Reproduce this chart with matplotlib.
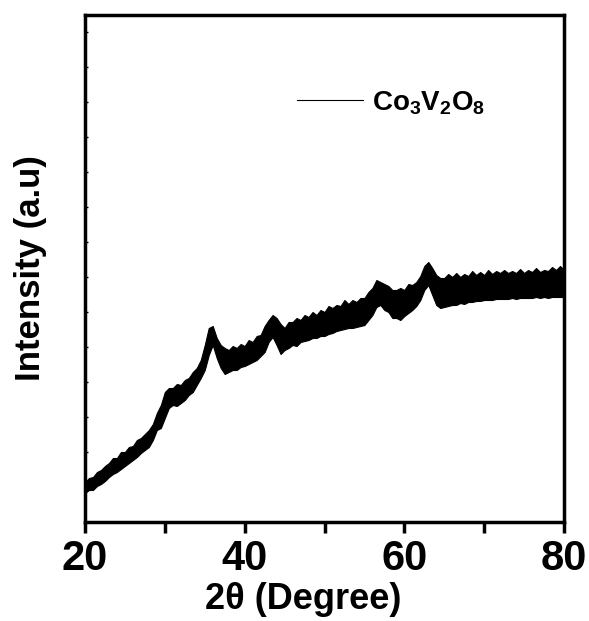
import numpy as np
import matplotlib.pyplot as plt

# scan grid, 2theta in degrees (0.5 deg steps)
two_theta = np.arange(20, 80.01, 0.5)

# upper / lower edge of the noisy trace (pixel rows, 522 = baseline)
top_px = [482, 478, 477, 472, 470, 466, 463, 458, 458, 452, 452, 447, 446, 440, 438, 434,
          430, 424, 413, 405, 392, 388, 388, 384, 385, 380, 378, 372, 368, 360, 345, 328,
          326, 338, 345, 348, 350, 346, 348, 344, 346, 340, 342, 336, 335, 326, 320, 315,
          318, 324, 328, 322, 322, 318, 320, 315, 317, 312, 315, 310, 312, 306, 308, 305,
          306, 300, 304, 300, 302, 298, 298, 292, 288, 280, 282, 284, 286, 290, 290, 288,
          290, 284, 285, 282, 276, 266, 262, 268, 275, 278, 278, 274, 277, 273, 277, 274,
          276, 271, 275, 272, 275, 270, 274, 271, 273, 270, 273, 271, 273, 269, 273, 270,
          272, 268, 272, 270, 271, 267, 270, 266, 270]
bot_px = [493, 490, 490, 486, 484, 481, 477, 474, 472, 469, 466, 463, 460, 457, 453, 450,
          447, 440, 430, 428, 418, 408, 405, 406, 403, 400, 395, 392, 385, 378, 370, 355,
          345, 358, 368, 374, 372, 370, 370, 367, 366, 364, 362, 360, 356, 352, 342, 337,
          345, 354, 350, 348, 345, 346, 342, 341, 340, 338, 338, 336, 336, 334, 333, 331,
          330, 329, 328, 328, 327, 326, 325, 320, 315, 307, 305, 310, 312, 318, 318, 320,
          316, 313, 310, 306, 300, 290, 285, 295, 305, 308, 307, 306, 305, 305, 303, 304,
          302, 302, 301, 301, 300, 300, 300, 299, 299, 299, 299, 298, 299, 298, 298, 298,
          298, 297, 298, 297, 298, 297, 297, 297, 297]

upper = 522 - np.array(top_px)
lower = 522 - np.array(bot_px)

plt.rcParams['font.family'] = ['Liberation Sans', 'DejaVu Sans']
plt.rcParams['font.weight'] = 'bold'
plt.rcParams['mathtext.fontset'] = 'custom'
plt.rcParams['mathtext.rm'] = 'Liberation Sans:bold'
plt.rcParams['mathtext.it'] = 'Liberation Sans:bold'
plt.rcParams['mathtext.bf'] = 'Liberation Sans:bold'

fig = plt.figure(figsize=(5.89, 6.21), dpi=100)
ax = fig.add_axes([85/589, 1 - 522/621, (564-85)/589, (522-15)/621])

ax.fill_between(two_theta, lower, upper, color='black', lw=0.8, edgecolor='black')
ax.plot([], [], color='black', lw=0.8, label='Co$_3$V$_2$O$_8$')

ax.set_xlim(20, 80)
ax.set_ylim(0, 507)
ax.set_xticks([20, 40, 60, 80])
ax.set_xticks([30, 50, 70], minor=True)
ax.set_yticks([])
ax.set_yticks(np.arange(0, 507, 35), minor=True)
ax.tick_params(axis='x', which='both', direction='out', length=8, width=2.5,
               labelsize=30, pad=4)
ax.tick_params(axis='y', which='minor', direction='in', length=2, width=1)
for s in ax.spines.values():
    s.set_linewidth(2.5)

ax.set_xlabel('2θ (Degree)', fontsize=26, fontweight='bold')
ax.xaxis.set_label_coords(0.455, -0.118)
ax.set_ylabel('Intensity (a.u)', fontsize=25, fontweight='bold')
ax.yaxis.set_label_coords(-0.08, 0.5)

leg = ax.legend(loc='upper left', bbox_to_anchor=(0.39, 0.903), frameon=False,
                fontsize=20, handlelength=2.4, handletextpad=0.3)

fig.savefig('out.png', dpi=100)
